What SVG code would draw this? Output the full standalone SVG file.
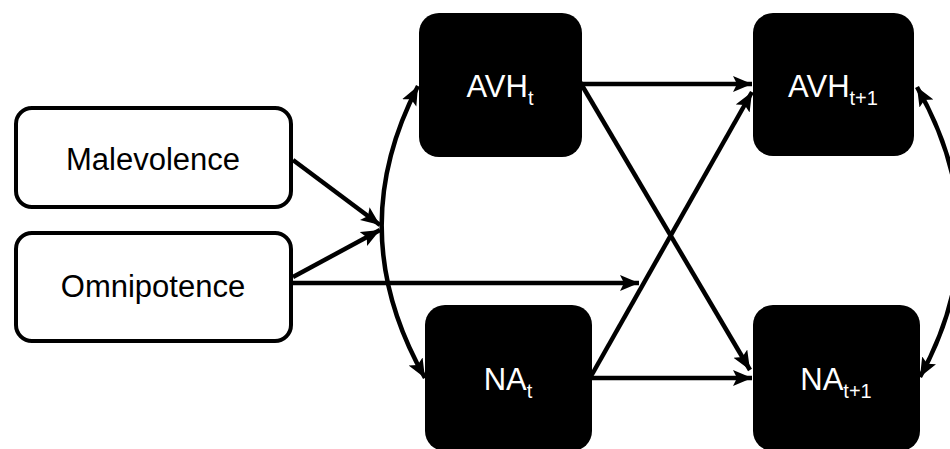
<svg xmlns="http://www.w3.org/2000/svg" width="950" height="449" viewBox="0 0 950 449">
<style>
.wbox{fill:#fff;stroke:#000;stroke-width:4}
.bbox{fill:#000;stroke:none}
.lbl{font-family:"Liberation Sans",Arial,sans-serif;font-size:31px;text-anchor:middle}
.wt{fill:#fff}
.bt{fill:#000}
.sub{font-size:20px}
.con{fill:none;stroke:#000;stroke-width:4.5}
</style>
<defs>
<marker id="ah" markerUnits="userSpaceOnUse" markerWidth="22" markerHeight="18" refX="19" refY="8" orient="auto-start-reverse" viewBox="0 0 22 18">
<path d="M0,0 L19,8 L0,16 L4,8 z" fill="#000"/>
</marker>
</defs>
<rect width="950" height="449" fill="#fff"/>
<g id="connectors">
<path class="con" d="M293,160 L380,225" marker-end="url(#ah)"/>
<path class="con" d="M293,277 L380,230" marker-end="url(#ah)"/>
<path class="con" d="M293,283 L639,283" marker-end="url(#ah)"/>
<path class="con" d="M418,86 Q342,232 425,378" marker-start="url(#ah)" marker-end="url(#ah)"/>
<path class="con" d="M582,84 L752,84" marker-end="url(#ah)"/>
<path class="con" d="M592,378 L752,378" marker-end="url(#ah)"/>
<path class="con" d="M580,82 L750,370" marker-end="url(#ah)"/>
<path class="con" d="M590,378 L752,92" marker-end="url(#ah)"/>
<path class="con" d="M917,87 Q1000,232 920,377" marker-start="url(#ah)" marker-end="url(#ah)"/>
</g>
<g id="malevolence">
<rect class="wbox" x="16" y="108" width="275" height="99" rx="16"/>
<text class="lbl bt" x="153" y="170">Malevolence</text>
</g>
<g id="omnipotence">
<rect class="wbox" x="16" y="233" width="275" height="108" rx="16"/>
<text class="lbl bt" x="153" y="297">Omnipotence</text>
</g>
<g id="avh_t">
<rect class="bbox" x="419" y="13" width="163" height="144" rx="20"/>
<text class="lbl wt" x="500" y="97">AVH<tspan class="sub" dy="8">t</tspan></text>
</g>
<g id="na_t">
<rect class="bbox" x="425" y="305" width="167" height="146" rx="20"/>
<text class="lbl wt" x="508" y="390">NA<tspan class="sub" dy="8">t</tspan></text>
</g>
<g id="avh_t1">
<rect class="bbox" x="753" y="13" width="161" height="143" rx="20"/>
<text class="lbl wt" x="833" y="97">AVH<tspan class="sub" dy="8">t+1</tspan></text>
</g>
<g id="na_t1">
<rect class="bbox" x="753" y="305" width="167" height="146" rx="20"/>
<text class="lbl wt" x="836" y="390">NA<tspan class="sub" dy="8">t+1</tspan></text>
</g>
</svg>
